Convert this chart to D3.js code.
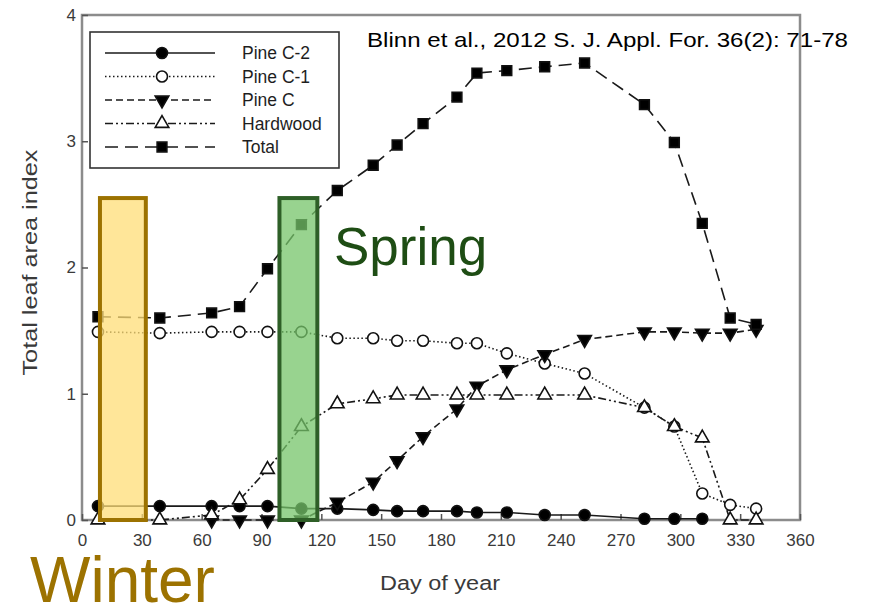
<!DOCTYPE html>
<html>
<head>
<meta charset="utf-8">
<script src="https://cdn.jsdelivr.net/npm/d3@7"></script>
<style>
  body { margin: 0; background: #fff; }
  svg { display: block; font-family: "Liberation Sans", Arial, sans-serif; }
</style>
</head>
<body>
<svg width="869" height="604"></svg>
<script>
// sample days
const days = [8, 39, 65, 79, 93, 110, 128, 146, 158, 171, 188, 198, 213, 232, 252, 282, 297, 311, 325, 338];

const pineC2 = [0.11, 0.11, 0.11, 0.11, 0.11, 0.09, 0.09, 0.08, 0.07, 0.07, 0.07, 0.06, 0.06, 0.04, 0.04, 0.01, 0.01, 0.01, null, null];
const pineC1 = [1.49, 1.48, 1.49, 1.49, 1.49, 1.49, 1.44, 1.44, 1.42, 1.42, 1.40, 1.40, 1.32, 1.24, 1.16, 0.89, 0.74, 0.21, 0.12, 0.09];
const pineC = [null, null, 0, 0, 0, 0, 0.14, 0.30, 0.47, 0.66, 0.88, 1.06, 1.19, 1.31, 1.43, 1.49, 1.49, 1.48, 1.48, 1.51];
const hardwood = [0, 0, 0.04, 0.16, 0.40, 0.74, 0.92, 0.96, 0.99, 0.99, 0.99, 0.99, 0.99, 0.99, 0.99, 0.89, 0.74, 0.65, 0, 0];
const total = [1.61, 1.60, 1.64, 1.69, 1.99, 2.34, 2.61, 2.81, 2.97, 3.14, 3.35, 3.54, 3.56, 3.59, 3.62, 3.29, 2.99, 2.35, 1.60, 1.55];

const xTicks = [0, 30, 60, 90, 120, 150, 180, 210, 240, 270, 300, 330, 360];
const yTicks = [0, 1, 2, 3, 4];

// season boxes: [day from, day to, LAI top]
const winterBox = [9, 32, 2.55];
const springBox = [99, 118, 2.55];

const series = [
  { name: "Pine C-2", values: pineC2, dash: null, symbol: d3.symbolCircle, fill: "#000", size: 95 },
  { name: "Pine C-1", values: pineC1, dash: "1.5,2.5", symbol: d3.symbolCircle, fill: "#fff", size: 95 },
  { name: "Pine C", values: pineC, dash: "7,4", symbol: d3.symbolTriangle, fill: "#000", size: 80, flip: true },
  { name: "Hardwood", values: hardwood, dash: "8,3,2,3,2,3", symbol: d3.symbolTriangle, fill: "#fff", size: 80 },
  { name: "Total", values: total, dash: "13,7", symbol: d3.symbolSquare, fill: "#000", size: 95 },
];

const svg = d3.select("svg");

const x = d3.scaleLinear().domain([0, 360]).range([82, 800]);
const y = d3.scaleLinear().domain([0, 4]).range([520, 15]);

// frame
svg.append("rect")
  .attr("x", x(0)).attr("y", y(4))
  .attr("width", x(360) - x(0)).attr("height", y(0) - y(4))
  .attr("fill", "none").attr("stroke", "#8c8c8c").attr("stroke-width", 2.5);

const xAxis = svg.append("g")
  .attr("transform", `translate(0,${y(0)})`)
  .call(d3.axisBottom(x).tickValues(xTicks).tickSize(-6).tickPadding(14));
const yAxis = svg.append("g")
  .attr("transform", `translate(${x(0)},0)`)
  .call(d3.axisLeft(y).tickValues(yTicks).tickSize(-6).tickPadding(6).tickFormat(d3.format("d")));

[xAxis, yAxis].forEach(g => {
  g.select(".domain").remove();
  g.selectAll(".tick line").attr("stroke", "#555").attr("stroke-width", 1.5);
  g.selectAll(".tick text")
    .attr("fill", "#3a3a3a")
    .style("font-size", "17px")
    .style("font-family", "'Liberation Sans', Arial, sans-serif");
});

svg.append("text")
  .attr("transform", `translate(37,${y(2) - 5}) rotate(-90)`)
  .attr("text-anchor", "middle")
  .attr("fill", "#3a3a3a")
  .attr("textLength", 226)
  .attr("lengthAdjust", "spacingAndGlyphs")
  .style("font-size", "20px")
  .text("Total leaf area index");

svg.append("text")
  .attr("x", 440).attr("y", 590)
  .attr("text-anchor", "middle")
  .attr("fill", "#3a3a3a")
  .attr("textLength", 120)
  .attr("lengthAdjust", "spacingAndGlyphs")
  .style("font-size", "20px")
  .text("Day of year");

// series lines
const pts = s => days.map((d, i) => ({ day: d, v: s.values[i] }));

const line = d3.line()
  .defined(d => d.v !== null)
  .x(d => x(d.day))
  .y(d => y(d.v));

series.forEach(s => {
  svg.append("path")
    .datum(pts(s))
    .attr("d", line)
    .attr("fill", "none")
    .attr("stroke", "#1a1a1a")
    .attr("stroke-width", 1.6)
    .attr("stroke-dasharray", s.dash);
});

series.forEach(s => {
  svg.append("g").selectAll("path")
    .data(pts(s).filter(d => d.v !== null))
    .enter()
    .append("path")
    .attr("d", d3.symbol().type(s.symbol).size(s.size))
    .attr("transform", d => `translate(${x(d.day)},${y(d.v)})${s.flip ? " rotate(180)" : ""}`)
    .attr("fill", s.fill)
    .attr("stroke", "#111")
    .attr("stroke-width", 1.6);
});

// legend
const legend = svg.append("g");
legend.append("rect")
  .attr("x", 90).attr("y", 32).attr("width", 249).attr("height", 136)
  .attr("fill", "#fff").attr("stroke", "#333").attr("stroke-width", 1.6);

const rowY = d3.scalePoint().domain(series.map(s => s.name)).range([53, 147]);

series.forEach(s => {
  const ry = rowY(s.name);
  legend.append("line")
    .attr("x1", 105).attr("x2", 215).attr("y1", ry).attr("y2", ry)
    .attr("stroke", "#1a1a1a").attr("stroke-width", 1.6)
    .attr("stroke-dasharray", s.dash);
  legend.append("path")
    .attr("d", d3.symbol().type(s.symbol).size(s.size))
    .attr("transform", `translate(162,${ry})${s.flip ? " rotate(180)" : ""}`)
    .attr("fill", s.fill).attr("stroke", "#111").attr("stroke-width", 1.6);
  legend.append("text")
    .attr("x", 242).attr("y", ry).attr("dy", "0.36em")
    .attr("fill", "#1e1e1e")
    .style("font-size", "17.5px")
    .text(s.name);
});

// season boxes over the plot
const box = (b, fill, stroke) => svg.append("rect")
  .attr("x", x(b[0])).attr("y", y(b[2]))
  .attr("width", x(b[1]) - x(b[0])).attr("height", y(0) - y(b[2]))
  .attr("fill", fill).attr("fill-opacity", 0.75)
  .attr("stroke", stroke).attr("stroke-width", 4);

box(winterBox, "#ffdd77", "#9c7200");
box(springBox, "#76c46a", "#2e5f27");

svg.append("text")
  .attr("x", 334).attr("y", 265)
  .attr("fill", "#1e4d14")
  .style("font-size", "53px")
  .text("Spring");

svg.append("text")
  .attr("x", 30).attr("y", 602)
  .attr("fill", "#9c7200")
  .style("font-size", "64px")
  .text("Winter");

svg.append("text")
  .attr("x", 367).attr("y", 47)
  .attr("fill", "#000")
  .attr("textLength", 481)
  .attr("lengthAdjust", "spacingAndGlyphs")
  .style("font-size", "21px")
  .text("Blinn et al., 2012 S. J. Appl. For. 36(2): 71-78");
</script>
</body>
</html>
